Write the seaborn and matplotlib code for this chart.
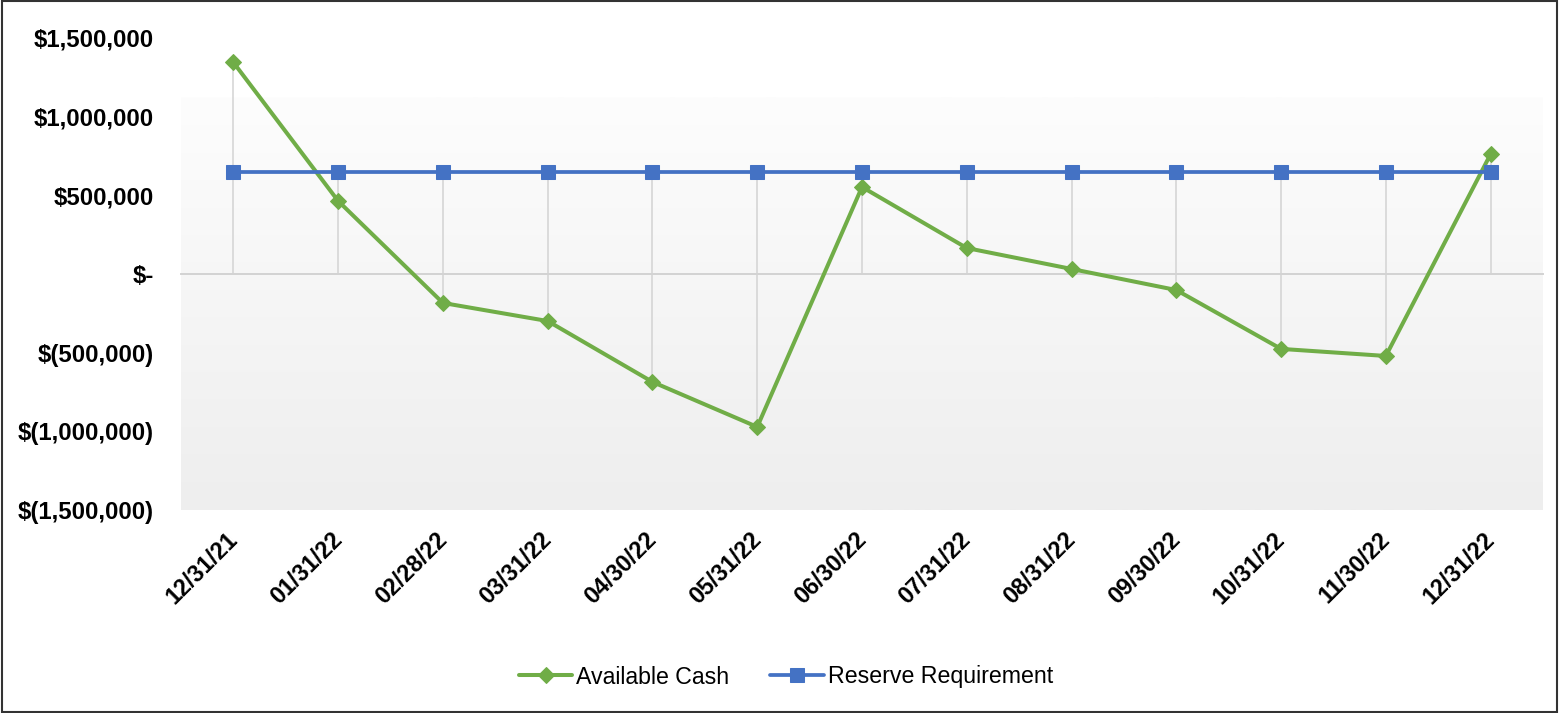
import numpy as np
import pandas as pd
import matplotlib
matplotlib.use("Agg")
import matplotlib.pyplot as plt
from matplotlib.colors import LinearSegmentedColormap
from matplotlib.patches import Rectangle
from matplotlib.ticker import FuncFormatter
from matplotlib.transforms import ScaledTranslation
import seaborn as sns

# Month-end balances
dates = ["12/31/21", "01/31/22", "02/28/22", "03/31/22", "04/30/22", "05/31/22",
         "06/30/22", "07/31/22", "08/31/22", "09/30/22", "10/31/22", "11/30/22",
         "12/31/22"]
available_cash = [1345000, 464000, -184000, -299000, -686000, -972000,
                  553000, 165000, 32000, -102000, -476000, -521000, 762000]
reserve_requirement = [648000, 648000, 648000, 648000, 648000, 648000,
                       648000, 648000, 648000, 648000, 648000, 648000, 648000]
y_ticks = [-1500000, -1000000, -500000, 0, 500000, 1000000, 1500000]

GREEN = "#70AD47"
BLUE = "#4472C4"
GRID = "#d3d3d3"

sns.set_style("white")
plt.rcParams["font.family"] = ["Liberation Sans", "DejaVu Sans"]
plt.rcParams["text.color"] = "black"
plt.rcParams["xtick.labelcolor"] = "black"
plt.rcParams["ytick.labelcolor"] = "black"

df = pd.DataFrame({"Date": dates,
                   "Available Cash": available_cash,
                   "Reserve Requirement": reserve_requirement})

fig = plt.figure(figsize=(15.59, 7.13), dpi=100)
ax = fig.add_axes([181 / 1559, 1 - 510 / 713, (1543 - 181) / 1559, (510 - 38) / 713])

ymin, ymax = y_ticks[0], y_ticks[-1]
n = len(dates)

# soft vertical gradient behind the plot
grad_cmap = LinearSegmentedColormap.from_list("bg", ["#eeeeee", "#fdfdfd"])
ax.imshow(np.linspace(0, 1, 256).reshape(-1, 1), cmap=grad_cmap, origin="lower",
          extent=(-0.5, n - 0.5, ymin, 1125000), aspect="auto", zorder=0)

# drop lines from each point to the category axis
for i in range(n):
    vals = [0, df["Available Cash"][i], df["Reserve Requirement"][i]]
    ax.vlines(i, min(vals), max(vals), color=GRID, linewidth=1.1, zorder=1)

sns.lineplot(data=df, x="Date", y="Available Cash", ax=ax, sort=False,
             color=GREEN, linewidth=2.9, marker="D", markersize=8.5,
             markeredgecolor=GREEN, label="Available Cash", zorder=3)
sns.lineplot(data=df, x="Date", y="Reserve Requirement", ax=ax, sort=False,
             color=BLUE, linewidth=2.7, marker="s", markersize=10.5,
             markeredgecolor=BLUE, label="Reserve Requirement", zorder=3)

ax.set_xlim(-0.5, n - 0.5)
ax.set_ylim(ymin, ymax)
ax.set_xlabel("")
ax.set_ylabel("")


def money(v, _pos=None):
    if abs(v) < 1:
        return "$-"
    if v < 0:
        return f"$({abs(v):,.0f})"
    return f"${v:,.0f}"


ax.set_yticks(y_ticks)
ax.yaxis.set_major_formatter(FuncFormatter(money))
ax.tick_params(axis="y", length=0, pad=19.5, labelsize=17.3, labelcolor="black")
for lab in ax.get_yticklabels():
    lab.set_fontweight("bold")

# category axis line at zero with boundary tick marks
for side in ("top", "right", "left"):
    ax.spines[side].set_visible(False)
ax.spines["bottom"].set_position(("data", 0))
ax.spines["bottom"].set_color(GRID)
ax.spines["bottom"].set_linewidth(1.4)
ax.spines["bottom"].set_zorder(1.5)
ax.set_xticks(np.arange(n))
ax.set_xticklabels([])
ax.tick_params(axis="x", which="major", length=0)
ax.set_xticks(np.arange(-0.5, n, 1.0), minor=True)
ax.tick_params(axis="x", which="minor", length=5, width=1.2, color=GRID, direction="out")

# date labels along the bottom edge of the plot area
sec = ax.secondary_xaxis("bottom")
sec.spines["bottom"].set_visible(False)
sec.set_xticks(np.arange(n))
sec.set_xticklabels(dates)
sec.tick_params(axis="x", length=0, pad=19, labelsize=16.8, labelcolor="black")
shift = ScaledTranslation(0.5 / 100, 0, fig.dpi_scale_trans)
for lab in sec.get_xticklabels():
    lab.set_rotation(45)
    lab.set_ha("right")
    lab.set_va("center")
    lab.set_rotation_mode("anchor")
    lab.set_fontweight("bold")
    lab.set_transform(lab.get_transform() + shift)

handles, labels = ax.get_legend_handles_labels()
ax.get_legend().remove()
fig.legend(handles, labels, loc="center", bbox_to_anchor=(786 / 1559, 1 - 677 / 713),
           ncol=2, frameon=False, fontsize=16.7, handlelength=2.3,
           handletextpad=0.17, columnspacing=1.77)

fig.add_artist(Rectangle((0.0012, 0.0014), 0.9976, 0.9972, transform=fig.transFigure,
                         fill=False, edgecolor="#333333", linewidth=1.5))

fig.savefig("out.png", dpi=100)
